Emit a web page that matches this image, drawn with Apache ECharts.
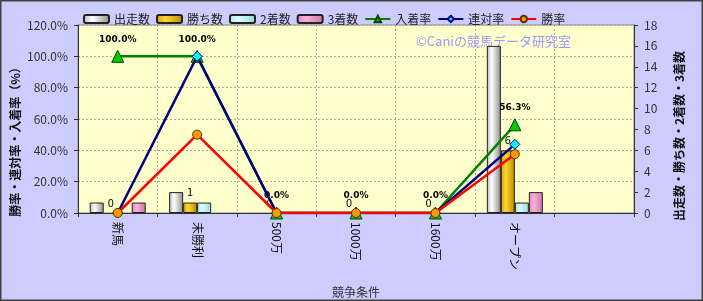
<!DOCTYPE html>
<html><head><meta charset="utf-8">
<script src="https://cdn.jsdelivr.net/npm/echarts@6/dist/echarts.min.js"></script>
<style>html,body{margin:0;padding:0;background:#ccccff}#c{width:703px;height:301px}</style>
</head><body><div id="c"></div>
<script>
const categories = ['新馬','未勝利','500万','1000万','1600万','オープン',''];
const starts = [1,2,0,0,0,16,null];
const wins = [0,1,0,0,0,6,null];
const seconds = [0,1,0,0,0,1,null];
const thirds = [1,0,0,0,0,2,null];
const placeRate = [100,100,0,0,0,56.3,null];
const rentaiRate = [0,100,0,0,0,43.8,null];
const winRate = [0,50,0,0,0,37.5,null];
const leftTicks = {min:0,max:120,interval:20};
const rightTicks = {min:0,max:18,interval:2};
const leftName = '勝率・連対率・入着率（%）';
const rightName = '出走数・勝ち数・2着数・3着数';

const F = '"Noto Sans CJK JP", sans-serif';
function grad(c0,c1,c2){return {type:'linear',x:0,y:0,x2:1,y2:0,colorStops:[{offset:0,color:c0},{offset:0.35,color:c1},{offset:1,color:c2}]};}
function barData(arr){return arr.map(v=>v===0?{value:0,itemStyle:{borderWidth:0,opacity:0}}:v);}
const barBase = {type:'bar',yAxisIndex:1,barWidth:14,barGap:'0%',z:3};
const chart = echarts.init(document.getElementById('c'));
chart.setOption({
  animation:false,
  backgroundColor:'#ccccff',
  textStyle:{fontFamily:F},
  graphic:[
    {type:'rect',z:100,shape:{x:0.5,y:0.5,width:702,height:300},style:{fill:null,stroke:'#404040',lineWidth:2}},
    {type:'text',z:1,left:416,top:35,style:{text:'©Caniの競馬データ研究室',fill:'#9999ff',font:'13px '+F}},
    {type:'text',z:10,x:15,y:139,rotation:Math.PI/2,style:{text:leftName,fill:'#111',font:'bold 12px '+F,align:'center',verticalAlign:'middle'}},
    {type:'text',z:10,x:679,y:136,rotation:Math.PI/2,style:{text:rightName,fill:'#111',font:'bold 12px '+F,align:'center',verticalAlign:'middle'}}
  ],
  legend:{left:78,top:8,itemWidth:25,itemHeight:8,itemGap:6,textStyle:{fontSize:12,color:'#222',fontFamily:F},
    data:['出走数','勝ち数','2着数','3着数','入着率','連対率','勝率']},
  grid:{left:78,right:69,top:25,bottom:88,outerBoundsMode:'none',containLabel:false,show:true,backgroundColor:'#ffffcc',borderColor:'#888',borderWidth:1},
  xAxis:{type:'category',data:categories,name:'競争条件',nameLocation:'middle',nameGap:73,
    nameTextStyle:{fontSize:12,color:'#333',fontFamily:F},
    axisLine:{lineStyle:{color:'#333'}},axisTick:{show:true,length:4,lineStyle:{color:'#333'}},
    axisLabel:{rotate:-90,margin:9,fontSize:12,color:'#111',fontFamily:F},
    splitLine:{show:true,lineStyle:{color:'#aaa',type:[2,2]}}},
  yAxis:[
    {type:'value',min:leftTicks.min,max:leftTicks.max,interval:leftTicks.interval,
     axisLine:{show:true,lineStyle:{color:'#333'}},axisTick:{show:true,length:4,lineStyle:{color:'#333'}},
     axisLabel:{margin:10,fontSize:12,color:'#333',formatter:v=>v.toFixed(1)+'%',fontFamily:F},
     splitLine:{show:true,lineStyle:{color:'#aaa',type:[2,2]}}},
    {type:'value',min:rightTicks.min,max:rightTicks.max,interval:rightTicks.interval,position:'right',
     axisLine:{show:true,lineStyle:{color:'#333'}},axisTick:{show:true,length:4,lineStyle:{color:'#333'}},
     axisLabel:{margin:10,fontSize:12,color:'#333',fontFamily:F},
     splitLine:{show:false}}
  ],
  series:[
    Object.assign({},barBase,{name:'出走数',data:barData(starts),itemStyle:{color:grad('#b8b8b8','#ffffff','#8c8c8c'),borderColor:'#222',borderWidth:1}}),
    Object.assign({},barBase,{name:'勝ち数',data:wins.map(v=>v===0?{value:0,itemStyle:{borderWidth:0,color:'rgba(0,0,0,0)'}}:v),itemStyle:{color:grad('#d8a000','#ffd633','#b88a00'),borderColor:'#222',borderWidth:1},
      label:{show:true,position:'top',distance:5,fontSize:11,color:'#000',fontFamily:F}}),
    Object.assign({},barBase,{name:'2着数',data:barData(seconds),itemStyle:{color:grad('#a8e8e8','#d8ffff','#98d8d8'),borderColor:'#222',borderWidth:1}}),
    Object.assign({},barBase,{name:'3着数',data:barData(thirds),itemStyle:{color:grad('#e088b8','#f8b0d8','#d070a8'),borderColor:'#222',borderWidth:1}}),
    {type:'line',name:'入着率',data:placeRate,yAxisIndex:0,z:5,symbol:'triangle',symbolSize:12,
      lineStyle:{color:'#008000',width:2.5},itemStyle:{color:'#00cc00',borderColor:'#004400',borderWidth:1},
      label:{show:true,position:'top',distance:6,fontSize:9,fontWeight:'bold',color:'#000',formatter:p=>p.value.toFixed(1)+'%',fontFamily:'"DejaVu Sans", sans-serif'}},
    {type:'line',name:'連対率',data:rentaiRate,yAxisIndex:0,z:6,symbol:'diamond',symbolSize:10,
      lineStyle:{color:'#000080',width:2.5},itemStyle:{color:'#00ffff',borderColor:'#000080',borderWidth:1}},
    {type:'line',name:'勝率',data:winRate,yAxisIndex:0,z:7,symbol:'circle',symbolSize:9,
      lineStyle:{color:'#ff0000',width:2.5},itemStyle:{color:'#ff9900',borderColor:'#553300',borderWidth:1}}
  ]
});
</script></body></html>
